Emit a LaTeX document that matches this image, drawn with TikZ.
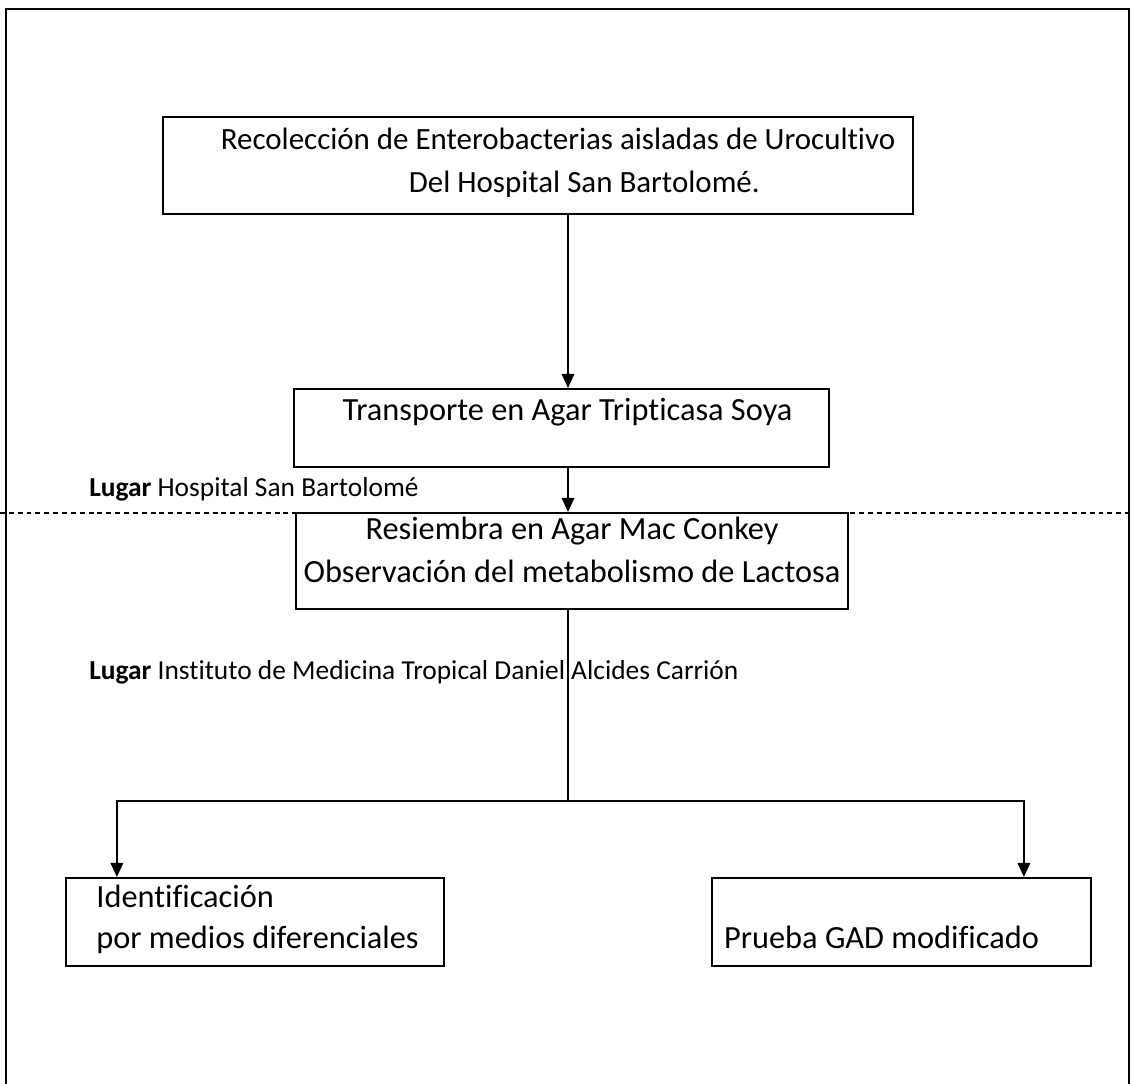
\documentclass[tikz,border=0pt]{standalone}
\usepackage{fontspec}
\setmainfont{Carlito}[Ligatures=NoCommon]
\usetikzlibrary{calc,positioning,arrows.meta}

\begin{document}
\begin{tikzpicture}[x=0.025cm, y=-0.025cm,
  caja/.style={draw, line width=1.5pt, inner sep=0pt, text height=0pt,
    font=\fontsize{23}{30.5}\selectfont},
  flecha/.style={line width=1.1pt, -{Triangle[length=10pt,width=9pt]}},
  linea/.style={line width=1.1pt},
  lugar/.style={anchor=west, inner sep=0pt, font=\fontsize{19.5}{22}\selectfont}]

\useasboundingbox (0,0) rectangle (1133,1084);

% marco
\draw[line width=1.3pt] (6,1100) |- (1129,9) -- (1129,1100);

\node[caja, minimum width=18.75cm, minimum height=2.425cm, align=left, text height=37.7pt, text depth=0pt,
  font=\fontsize{22}{30.5}\selectfont] (rec) at (538,165.5)
  {\hspace*{10mm}Recolección de Enterobacterias aisladas de Urocultivo\\
   \hspace*{57mm}Del Hospital San Bartolomé.};
\node[caja, minimum width=13.375cm, minimum height=1.95cm, text depth=10pt] (tra) at (561.5,428)
  {\hspace*{3mm}Transporte en Agar Tripticasa Soya};
\node[caja, minimum width=13.8cm, minimum height=2.4cm, align=center, text height=29.9pt, text depth=0pt] (res) at (572,561)
  {Resiembra en Agar Mac Conkey\\ Observación del metabolismo de Lactosa};
\node[caja, minimum width=9.45cm, minimum height=2.2cm, align=left, text height=37pt, text depth=0pt,
  font=\fontsize{23}{29}\selectfont] (ide) at (255,922)
  {\hspace*{1.25mm}Identificación\\ \hspace*{1.25mm}por medios diferenciales};
\node[caja, minimum width=9.475cm, minimum height=2.2cm, text height=37pt, text depth=0pt] (pru) at (901.5,922)
  {Prueba GAD modificado\rule{10mm}{0pt}};

% lugares
\draw[line width=0.8pt, dash pattern=on 3.5pt off 2.8pt] (0,513) -- (1133,513);
\node[lugar] (lug1) at (89,489) {\textbf{Lugar} Hospital San Bartolomé};
\node[lugar] (lug2) at (89,672) {\textbf{Lugar} Instituto de Medicina Tropical Daniel Alcides Carrión};

\coordinate (eje) at (568,0);
\coordinate (bifur) at (568,801);
\draw[flecha] (rec.south -| eje) -- (tra.north -| eje);
\draw[flecha] (tra.south -| eje) -- (res.north -| eje);
\draw[linea] (res.south -| eje) -- (bifur);
\draw[flecha] (bifur) -| ($(ide.north west)+(52,0)$);
\draw[flecha] (bifur) -| ($(pru.north west)+(313,0)$);
\end{tikzpicture}
\end{document}
